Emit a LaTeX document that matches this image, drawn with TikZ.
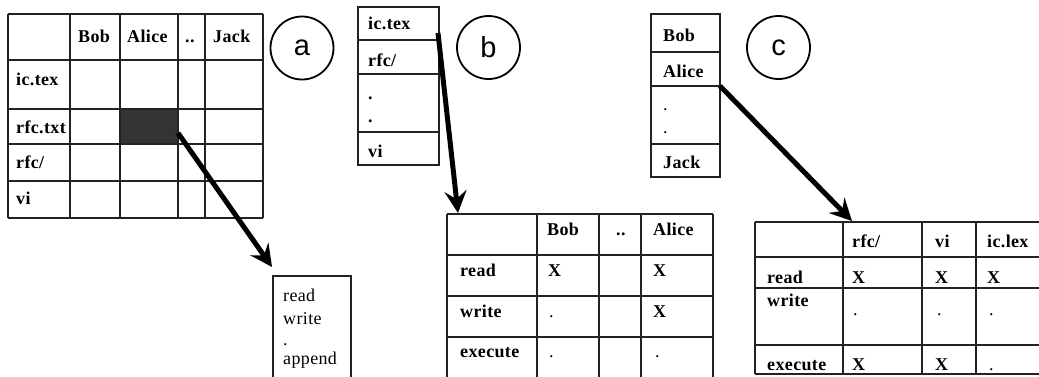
\documentclass[tikz,border=0pt]{standalone}
\usepackage{fontspec}
\setmainfont[LetterSpace=2]{Liberation Serif}
\newfontfamily\circfont{Liberation Sans}
\usetikzlibrary{arrows.meta}
\definecolor{gridc}{HTML}{222222}
\definecolor{darkcell}{HTML}{333333}
\tikzset{
  gridline/.style={draw=gridc, line width=1.3pt},
  bt/.style={anchor=base west, inner sep=0pt, font=\bfseries\fontsize{18}{20}\selectfont},
  rt/.style={anchor=base west, inner sep=0pt, font=\fontsize{18}{20}\selectfont},
  circ/.style={circle, draw=black, line width=1.8pt, minimum size=63pt, inner sep=0pt, font=\circfont\fontsize{29}{30}\selectfont},
  bigarrow/.style={line width=5pt, -{Stealth[length=22pt,width=22pt,inset=8pt]}}
}
\begin{document}
\begin{tikzpicture}[x=1pt,y=-1pt]
\clip (0,0) rectangle (1039,376);
\fill[white] (0,0) rectangle (1039,376);
% ---------- (a) access matrix ----------
\fill[darkcell] (120,109) rectangle (178,144);
\foreach \x in {8,70,120,178,205,263} \draw[gridline] (\x,14) -- (\x,218);
\foreach \y in {14,60,109,144,181,218} \draw[gridline] (8,\y) -- (263,\y);
\node[bt] (aBob) at (78,42) {Bob};
\node[bt] (aAlice) at (127,42) {Alice};
\node[bt] (aDots) at (185,42) {..};
\node[bt] (aJack) at (213,42) {Jack};
\node[bt] (aic) at (16,85) {ic.tex};
\node[bt] (arfct) at (16,133) {rfc.txt};
\node[bt] (arfc) at (16,168) {rfc/};
\node[bt] (avi) at (16,204) {vi};
\node[circ] (ca) at (302,48) {a};
% box of rights
\draw[gridline] (273,400) -- (273,276) -- (351,276) -- (351,400);
\node[rt] (rread) at (283,301) {read};
\node[rt] (rwrite) at (283,324) {write};
\node[rt] (rdot) at (283,345) {.};
\node[rt] (rappend) at (283,364) {append};
\coordinate (aStart) at (178,133);
\coordinate (aEnd) at (272,267);
\draw[bigarrow] (aStart) -- (aEnd);
% ---------- (b) ACL ----------
\draw[gridline] (358,7) rectangle (439,165);
\foreach \y in {40,74,132} \draw[gridline] (358,\y) -- (439,\y);
\node[bt] (bic) at (368,29) {ic.tex};
\node[bt] (brfc) at (368,66) {rfc/};
\node[bt] (bd1) at (368,99) {.};
\node[bt] (bd2) at (368,122) {.};
\node[bt] (bvi) at (368,157) {vi};
\node[circ] (cb) at (488.5,47.5) {b};
\foreach \x in {447,537,599,641,713} \draw[gridline] (\x,214) -- (\x,400);
\foreach \y in {214,255,296,337} \draw[gridline] (447,\y) -- (713,\y);
\node[bt] (bBob) at (547,235) {Bob};
\node[bt] (bDots) at (616,235) {..};
\node[bt] (bAlice) at (653,235) {Alice};
\node[bt] (bread) at (460,276) {read};
\node[bt] (bwrite) at (460,317) {write};
\node[bt] (bexec) at (460,357) {execute};
\node[bt] (bx1) at (548,276) {X};
\node[bt] (bx2) at (653,276) {X};
\node[bt] (bx3) at (653,317) {X};
\node[rt] (bp1) at (549,317) {.};
\node[rt] (bp2) at (549,357) {.};
\node[rt] (bp3) at (655,357) {.};
\coordinate (bStart) at (438,33);
\coordinate (bEnd) at (458,213);
\draw[bigarrow] (bStart) -- (bEnd);
% ---------- (c) capability list ----------
\draw[gridline] (651,14) rectangle (720,177);
\foreach \y in {52,86,144} \draw[gridline] (651,\y) -- (720,\y);
\node[bt] (cBob) at (663,41) {Bob};
\node[bt] (cAlice) at (663,77) {Alice};
\node[rt] (cd1) at (663,110) {.};
\node[rt] (cd2) at (663,133) {.};
\node[bt] (cJack) at (663,168) {Jack};
\node[circ] (cc) at (778.5,47.5) {c};
\foreach \x in {755,843,922,976} \draw[gridline] (\x,222) -- (\x,374);
\foreach \y in {222,257,288,345,374} \draw[gridline] (755,\y) -- (1045,\y);
\node[bt] (crfc) at (852,247) {rfc/};
\node[bt] (cvi) at (935,247) {vi};
\node[bt] (clex) at (987,247) {ic.lex};
\node[bt] (cread) at (767,283) {read};
\node[bt] (cwrite) at (767,306) {write};
\node[bt] (cexec) at (767,370) {execute};
\node[bt] (cx1) at (852,283) {X};
\node[bt] (cx2) at (935,283) {X};
\node[bt] (cx3) at (987,283) {X};
\node[rt] (cp1) at (853,315) {.};
\node[rt] (cp2) at (937,315) {.};
\node[rt] (cp3) at (989,315) {.};
\node[bt] (cx4) at (852,370) {X};
\node[bt] (cx5) at (935,370) {X};
\node[rt] (cp4) at (989,370) {.};
\coordinate (cStart) at (720,86);
\coordinate (cEnd) at (852,221);
\draw[bigarrow] (cStart) -- (cEnd);
\end{tikzpicture}
\end{document}
